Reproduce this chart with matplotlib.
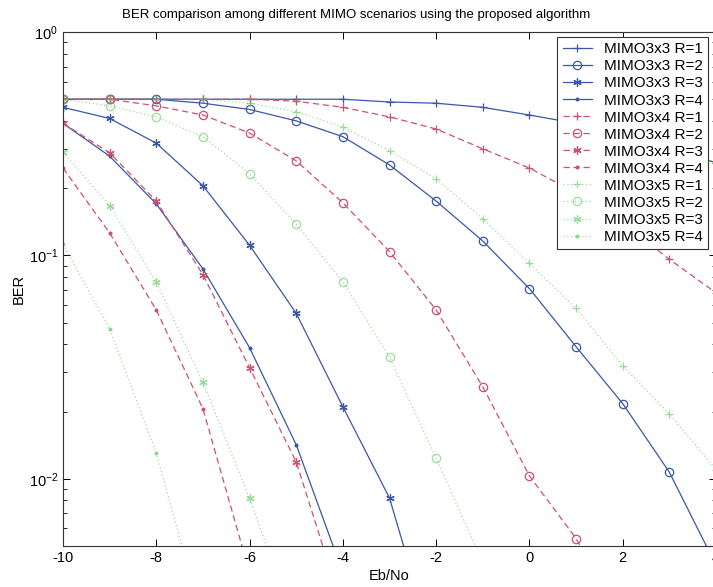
import numpy as np
import matplotlib
matplotlib.use('Agg')
import matplotlib.pyplot as plt
from matplotlib.ticker import LogLocator, FuncFormatter, NullFormatter

plt.rcParams['font.family'] = ['Liberation Sans', 'DejaVu Sans']
plt.rcParams['mathtext.fontset'] = 'custom'
plt.rcParams['mathtext.rm'] = 'Liberation Sans'
plt.rcParams['mathtext.it'] = 'Liberation Sans'
plt.rcParams['axes.unicode_minus'] = False

nan = np.nan
ebno = np.arange(-10, 5)

# BER per scenario, one value per Eb/No step (-10 ... 4 dB)
ber_3x3_r1 = [0.50, 0.50, 0.50, 0.50, 0.50, 0.50, 0.50, 0.486, 0.48, 0.46, 0.425, 0.39, 0.345, 0.30, 0.26]
ber_3x3_r2 = [0.50, 0.50, 0.50, 0.48, 0.45, 0.40, 0.34, 0.254, 0.175, 0.116, 0.071, 0.039, 0.0217, 0.0107, 0.0041]
ber_3x3_r3 = [0.46, 0.41, 0.318, 0.205, 0.111, 0.055, 0.021, 0.0082, 0.0016, nan, nan, nan, nan, nan, nan]
ber_3x3_r4 = [0.39, 0.278, 0.170, 0.087, 0.0386, 0.0142, 0.0038, nan, nan, nan, nan, nan, nan, nan, nan]

ber_3x4_r1 = [0.50, 0.50, 0.50, 0.50, 0.50, 0.49, 0.46, 0.417, 0.368, 0.30, 0.246, 0.19, 0.14, 0.096, 0.068]
ber_3x4_r2 = [0.50, 0.50, 0.467, 0.425, 0.353, 0.265, 0.172, 0.104, 0.057, 0.0258, 0.0103, 0.0054, 0.0023, nan, nan]
ber_3x4_r3 = [0.39, 0.288, 0.175, 0.082, 0.0314, 0.0119, 0.0026, nan, nan, nan, nan, nan, nan, nan, nan]
ber_3x4_r4 = [0.246, 0.126, 0.057, 0.0206, 0.0038, nan, nan, nan, nan, nan, nan, nan, nan, nan, nan]

ber_3x5_r1 = [0.50, 0.50, 0.50, 0.50, 0.48, 0.44, 0.376, 0.294, 0.22, 0.146, 0.092, 0.058, 0.032, 0.0195, 0.011]
ber_3x5_r2 = [0.50, 0.467, 0.416, 0.34, 0.232, 0.138, 0.076, 0.035, 0.0124, 0.0042, nan, nan, nan, nan, nan]
ber_3x5_r3 = [0.29, 0.167, 0.076, 0.027, 0.0082, 0.0021, nan, nan, nan, nan, nan, nan, nan, nan, nan]
ber_3x5_r4 = [0.112, 0.047, 0.013, 0.0023, nan, nan, nan, nan, nan, nan, nan, nan, nan, nan, nan]

labels = ['MIMO3x3 R=1', 'MIMO3x3 R=2', 'MIMO3x3 R=3', 'MIMO3x3 R=4',
          'MIMO3x4 R=1', 'MIMO3x4 R=2', 'MIMO3x4 R=3', 'MIMO3x4 R=4',
          'MIMO3x5 R=1', 'MIMO3x5 R=2', 'MIMO3x5 R=3', 'MIMO3x5 R=4']
series = [ber_3x3_r1, ber_3x3_r2, ber_3x3_r3, ber_3x3_r4,
          ber_3x4_r1, ber_3x4_r2, ber_3x4_r3, ber_3x4_r4,
          ber_3x5_r1, ber_3x5_r2, ber_3x5_r3, ber_3x5_r4]

blue = '#3a57a8'
red = '#d0506e'
green = '#5cc85c'
styles = {0: (blue, '-'), 1: (red, (0, (5, 3))), 2: (green, (0, (1, 2)))}
# plus, open circle, asterisk, point (one per code rate)
markers = ['+', 'o', (6, 2, 0), '.']
msizes = [6, 6, 6, 4]

fig = plt.figure(figsize=(7.13, 5.87), dpi=100)
ax = fig.add_axes([63 / 713, 41 / 587, 653 / 713, 514 / 587])

for i, (lab, ber) in enumerate(zip(labels, series)):
    color, ls = styles[i // 4]
    alpha = 0.6 if i // 4 == 2 else 1.0
    ax.semilogy(ebno, ber, color=color, linestyle=ls, linewidth=0.9, alpha=alpha,
                marker=markers[i % 4], markersize=msizes[i % 4], markeredgewidth=0.9,
                markerfacecolor='none' if i % 4 == 1 else color,
                label=lab)

ax.set_xlim(-10, 4)
ax.set_ylim(5e-3, 1)
ax.set_xticks(np.arange(-10, 5, 2))
ax.yaxis.set_major_locator(LogLocator(base=10, numticks=5))
ax.yaxis.set_minor_locator(LogLocator(base=10, subs=np.arange(2, 10), numticks=20))
ax.yaxis.set_minor_formatter(NullFormatter())
ax.yaxis.set_major_formatter(FuncFormatter(lambda v, p: r'$10^{%d}$' % round(np.log10(v))))
ax.tick_params(which='both', direction='in', top=True, right=True, labelsize=10.5)
ax.tick_params(which='major', length=5, width=0.7)
ax.tick_params(which='minor', length=3, width=0.6)
for s in ax.spines.values():
    s.set_linewidth(0.8)
    s.set_color('#333333')

ax.set_xlabel('Eb/No', fontsize=10.5, labelpad=3)
ax.set_ylabel('BER', fontsize=10.5, labelpad=2)
fig.text(356 / 713, 1 - 15 / 587, 'BER comparison among different MIMO scenarios using the proposed algorithm',
         ha='center', va='center', fontsize=9.5)

leg = ax.legend(loc='upper right', bbox_to_anchor=(708 / 713, 1 - 37 / 587),
                bbox_transform=fig.transFigure, borderaxespad=0, fancybox=False,
                framealpha=1, edgecolor='#333333', fontsize=11, labelspacing=0.2,
                handlelength=1.9, handletextpad=0.8, borderpad=0.35)
leg.get_frame().set_linewidth(0.8)

fig.savefig('out.png', dpi=100)
